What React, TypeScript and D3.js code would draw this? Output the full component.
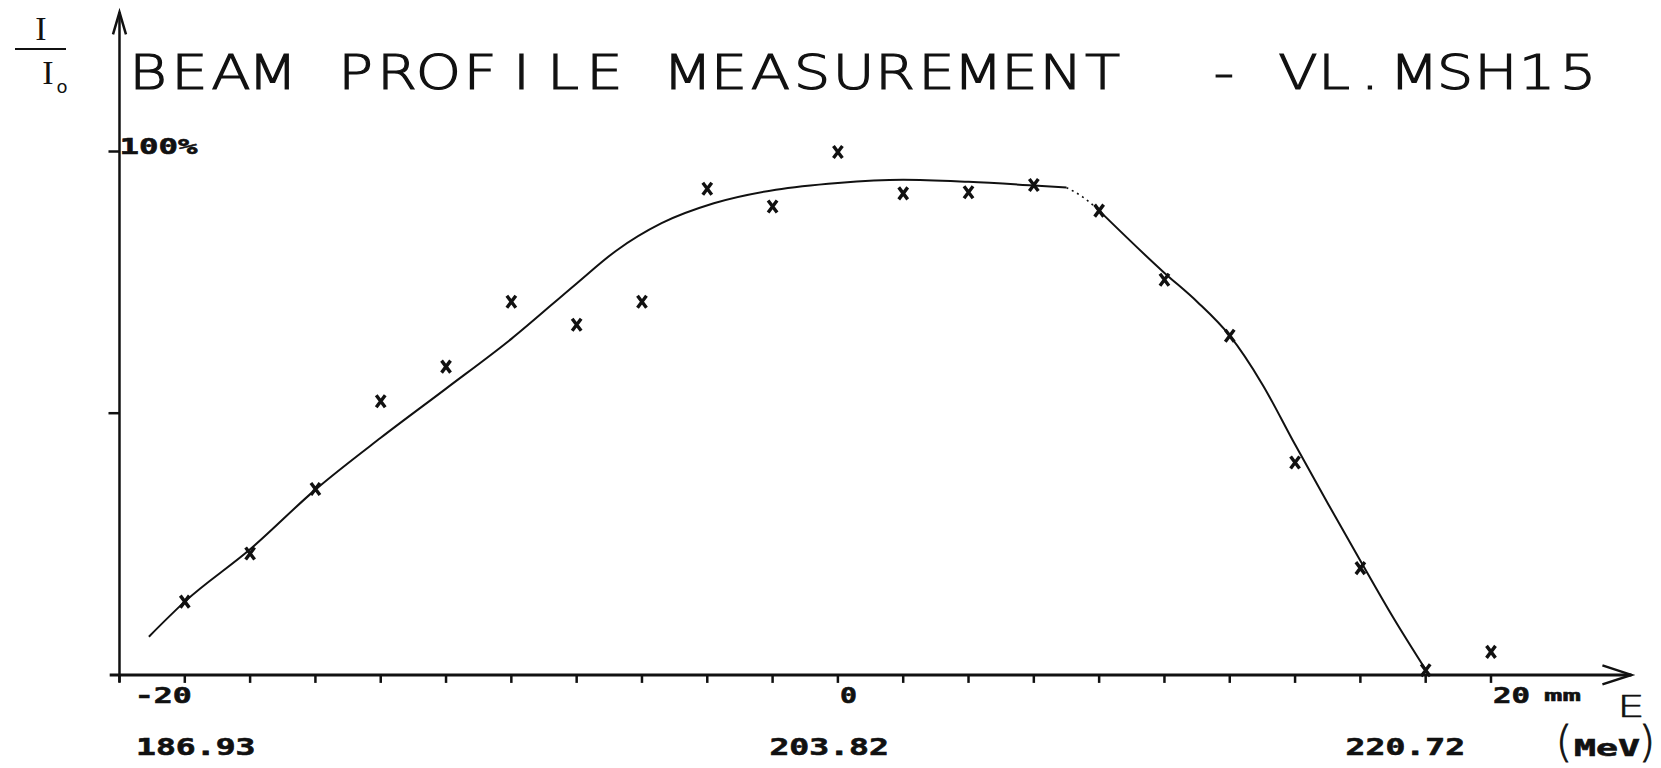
import React from "react";
import * as d3 from "d3";

// ---------- data ----------
const measuredMm = [-20, -18, -16, -14, -12, -10, -8, -6, -4, -2, 0, 2, 4, 6, 8, 10, 12, 14, 16, 18, 20];
const measuredPct = [14.0, 23.2, 35.5, 52.3, 58.9, 71.3, 66.9, 71.3, 92.9, 89.5, 99.9, 92.0, 92.2, 93.6, 88.7, 75.5, 64.8, 40.6, 20.4, 0.9, 4.4];

const fitMm = [-21.1, -20, -18, -16, -14, -12, -10, -8, -6.8, -5.4, -3.8, -1.9, 0, 2, 4, 6, 7, 7.5, 8, 10, 11, 12, 13, 14, 15, 16, 17, 18.1];
const fitPct = [7.3, 14.0, 24.0, 35.4, 45.3, 54.7, 64.2, 74.8, 81.0, 86.3, 90.1, 92.7, 94.0, 94.6, 94.2, 93.5, 93.1, 91.3, 88.7, 76.8, 71.3, 64.8, 55.5, 44.0, 32.8, 21.8, 11.0, 0];

const xTickMm = [-22, -20, -18, -16, -14, -12, -10, -8, -6, -4, -2, 0, 2, 4, 6, 8, 10, 12, 14, 16, 18, 20];
const xLabelMm = [-20, 0, 20];
const xLabelText = ["-20", "0", "20"];
const energyMm = [-20, 0, 20];
const energyText = ["186.93", "203.82", "220.72"];
const yTickPct = [50, 100];
const yTickLabel = "100%";

const titleWords = ["BEAM", "PROFILE", "MEASUREMENT", "-", "VL.", "MSH15"];

// ---------- layout ----------
const W = 1661;
const H = 768;
const THIN = "'DejaVu Sans', sans-serif";
const MONO = "'DejaVu Sans Mono', monospace";
const TITLE_SX = 1.2;
const titleCells = [
  { c0: 148, p: 41.5 },
  { c0: 148 + 5 * 41.5, p: 41.5 },
  { c0: 148 + 13 * 41.5, p: 41.5 },
  { c0: 1224, p: 41.5 },
  { c0: 1298, p: 36 },
  { c0: 1414, p: 41 },
];
const energyOffset = [-48.8, -68.5, -145.4];
const energyWidth = 119.5;
const INK = "#111";

export default function App() {
  const x = d3.scaleLinear().domain([-20, 20]).range([184.8, 1491]);
  const y = d3.scaleLinear().domain([0, 100]).range([674.9, 151.5]);
  const axisX = x(-22);
  const axisY = y(0);

  const line = d3
    .line<[number, number]>()
    .x((d) => x(d[0]))
    .y((d) => y(d[1]))
    .curve(d3.curveMonotoneX);

  const pts: [number, number][] = fitMm.map((m, i) => [m, fitPct[i]]);
  const partA = pts.filter((p) => p[0] <= 7);
  const partB = pts.filter((p) => p[0] >= 7 && p[0] <= 8);
  const partC = pts.filter((p) => p[0] >= 8);

  const xLeft = x(-22.3);
  const xRight = x(24.3);
  const yTop = y(126.6);

  return (
    <svg
      width={W}
      height={H}
      viewBox={`0 0 ${W} ${H}`}
      style={{ position: "absolute", left: 0, top: 0, background: "#fff" }}
    >
      <rect x={0} y={0} width={W} height={H} fill="#fff" />

      {/* title */}
      {titleWords.map((w, i) => {
        const c = titleCells[i];
        const xs = w
          .split("")
          .map((_, k) => ((c.c0 + k * c.p) / TITLE_SX).toFixed(2))
          .join(" ");
        return (
          <text
            key={w}
            x={xs}
            y={89}
            transform={`scale(${TITLE_SX},1)`}
            textAnchor="middle"
            fontFamily={THIN}
            fontWeight={200}
            fontSize={48}
            fill={INK}
            stroke={INK}
            strokeWidth={1.2}
          >
            {w}
          </text>
        );
      })}

      {/* I / I0 label */}
      <text x={41} y={40} textAnchor="middle" fontFamily="'Liberation Serif', serif" fontSize={34} fill={INK}>I</text>
      <line x1={15} x2={66} y1={49} y2={49} stroke={INK} strokeWidth={2} />
      <text x={48} y={84} textAnchor="middle" fontFamily="'Liberation Serif', serif" fontSize={34} fill={INK}>I</text>
      <text x={62} y={93} textAnchor="middle" fontFamily={THIN} fontSize={18} fill={INK}>o</text>

      {/* axes */}
      <line x1={axisX} x2={axisX} y1={axisY + 7} y2={yTop} stroke={INK} strokeWidth={2.5} />
      <path
        d={`M${axisX - 6.5},${yTop + 22} L${axisX},${yTop} L${axisX + 6.5},${yTop + 22}`}
        fill="none"
        stroke={INK}
        strokeWidth={2.5}
      />
      <line x1={xLeft} x2={xRight} y1={axisY} y2={axisY} stroke={INK} strokeWidth={3} />
      <path
        d={`M${xRight - 29},${axisY - 9.5} L${xRight},${axisY} L${xRight - 29},${axisY + 9.5}`}
        fill="none"
        stroke={INK}
        strokeWidth={2.5}
      />
      {xTickMm.map((m) => (
        <line key={m} x1={x(m)} x2={x(m)} y1={axisY} y2={axisY + 8} stroke={INK} strokeWidth={2.5} />
      ))}
      {yTickPct.map((p) => (
        <line key={p} x1={axisX - 11} x2={axisX} y1={y(p)} y2={y(p)} stroke={INK} strokeWidth={2.5} />
      ))}
      <text
        x={axisX}
        y={y(100) + 2}
        textLength={78}
        lengthAdjust="spacingAndGlyphs"
        fontFamily={MONO}
        fontWeight="bold"
        fontSize={22}
        fill={INK}
        stroke={INK}
        strokeWidth={0.6}
      >
        {yTickLabel}
      </text>

      {/* x tick labels */}
      {xLabelMm.map((m, i) => {
        const t = xLabelText[i];
        const w = 20 * t.length;
        const x0 = m < 0 ? x(m) + 10 - w : x(m) + 2;
        return (
          <text
            key={t}
            x={x0}
            y={axisY + 28}
            textLength={w - 3}
            lengthAdjust="spacingAndGlyphs"
            fontFamily={MONO}
            fontWeight="bold"
            fontSize={22}
            fill={INK}
            stroke={INK}
            strokeWidth={0.6}
          >
            {t}
          </text>
        );
      })}
      <text
        x={x(20) + 53}
        y={axisY + 26}
        textLength={37}
        lengthAdjust="spacingAndGlyphs"
        fontFamily={MONO}
        fontWeight="bold"
        fontSize={16}
        fill={INK}
        stroke={INK}
        strokeWidth={0.4}
      >
        mm
      </text>
      <text
        x={1631 / 1.45}
        y={717}
        transform="scale(1.45,1)"
        textAnchor="middle"
        fontFamily={THIN}
        fontWeight={200}
        fontSize={30}
        fill={INK}
        stroke={INK}
        strokeWidth={0.6}
      >
        E
      </text>

      {/* energy labels */}
      {energyMm.map((m, i) => (
        <text
          key={energyText[i]}
          x={x(m) + energyOffset[i]}
          y={755}
          textLength={energyWidth}
          lengthAdjust="spacingAndGlyphs"
          fontFamily={MONO}
          fontWeight="bold"
          fontSize={23}
          fill={INK}
          stroke={INK}
          strokeWidth={0.6}
        >
          {energyText[i]}
        </text>
      ))}
      <text x={1564} y={757} textAnchor="middle" fontFamily={THIN} fontWeight={200} fontSize={42} fill={INK} stroke={INK} strokeWidth={0.8}>(</text>
      <text
        x={1574}
        y={756}
        textLength={66}
        lengthAdjust="spacingAndGlyphs"
        fontFamily={MONO}
        fontWeight="bold"
        fontSize={23}
        fill={INK}
        stroke={INK}
        strokeWidth={0.6}
      >
        MeV
      </text>
      <text x={1647} y={757} textAnchor="middle" fontFamily={THIN} fontWeight={200} fontSize={42} fill={INK} stroke={INK} strokeWidth={0.8}>)</text>

      {/* fitted curve */}
      <path d={line(partA) || ""} fill="none" stroke={INK} strokeWidth={2} />
      <path d={line(partB) || ""} fill="none" stroke={INK} strokeWidth={1.6} strokeDasharray="2 4" />
      <path d={line(partC) || ""} fill="none" stroke={INK} strokeWidth={2} />

      {/* measured points */}
      {measuredMm.map((m, i) => (
        <path
          key={m}
          transform={`translate(${x(m)},${y(measuredPct[i])})`}
          d="M-4.5,-6L4.5,6M4.5,-6L-4.5,6"
          fill="none"
          stroke={INK}
          strokeWidth={3.4}
        />
      ))}
    </svg>
  );
}
